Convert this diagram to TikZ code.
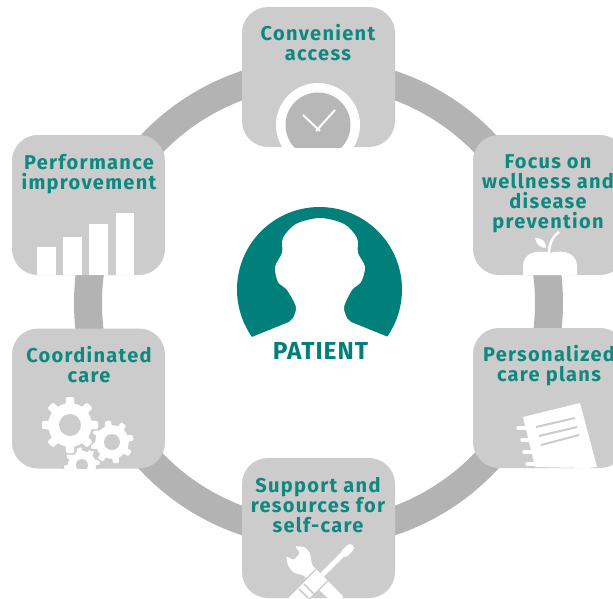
\documentclass[tikz,border=0pt]{standalone}
\usepackage{fontspec}
\setmainfont{Fira Sans}[LetterSpace=6.5]
\newfontfamily\patientfont{Fira Sans}[LetterSpace=4]
\definecolor{boxgrey}{HTML}{CCCCCC}
\definecolor{ringgrey}{HTML}{B3B3B3}
\definecolor{teal1}{HTML}{0F8880}
\definecolor{teal2}{HTML}{007F7B}
\newcommand{\gearicon}[5]{%
  \fill[boxgrey] (#1,#2) circle[radius=#3*0.8+2];
  \foreach \a in {0,45,...,315}{
    \draw[boxgrey,line width=3pt,shift={(#1,#2)},rotate=\a+#5]
      (-#3*0.2,0) -- (-#3*0.14,-#3) -- (#3*0.14,-#3) -- (#3*0.2,0) -- cycle;
  }
  \fill[white] (#1,#2) circle[radius=#3*0.78];
  \foreach \a in {0,45,...,315}{
    \fill[white,rounded corners=1.2pt,shift={(#1,#2)},rotate=\a+#5]
      (-#3*0.2,0) -- (-#3*0.14,-#3) -- (#3*0.14,-#3) -- (#3*0.2,0) -- cycle;
  }
  \fill[boxgrey] (#1,#2) circle[radius=#4];
}
\tikzset{
  tilebox/.style={minimum width=153pt,minimum height=140pt,inner sep=0pt,outer sep=0pt,draw=none,fill=boxgrey,rounded corners=26pt},
  tiletext/.style={text=teal1,font=\fontsize{20}{20}\selectfont\bfseries,align=center,inner sep=0pt},
  ringline/.style={draw=ringgrey,line width=28pt,circle,minimum size=461pt,inner sep=0pt,outer sep=0pt},
  grey line/.style={draw=boxgrey,line width=2pt},
}
\begin{document}
\begin{tikzpicture}[x=1pt,y=-1pt]
\clip (0,0) rectangle (613,598);
\fill[white] (0,0) rectangle (613,598);
\node[ringline] (ring) at (318.5,303) {};
\node[tilebox] (access) at (318.5,77) {};
\node[tilebox] (focus) at (549.5,205) {};
\node[tilebox] (plans) at (549.5,398) {};
\node[tilebox] (support) at (318.5,528) {};
\node[tilebox] (coord) at (88.5,398.5) {};
\node[tilebox] (perf) at (88.5,205) {};
% clock
\begin{scope}
\clip (242,7) rectangle (395,147);
\fill[white] (318,125) circle[radius=42];
\fill[ringgrey!85!boxgrey] (318,125) circle[radius=32.5];
\draw[white,line width=2pt] (316,131) -- (335,110);
\draw[white,line width=2pt] (320,131) -- (303,115);
\end{scope}
% apple
\fill[white] (523,275) -- (523,266) .. controls (523,254) and (535,249) .. (550,253)
  .. controls (565,249) and (577,254) .. (577,266) -- (577,275) -- cycle;
\fill[white] (535,238) .. controls (543,238) and (546,242) .. (546,248) .. controls (540,248) and (536,244) .. (535,238) -- cycle;
\draw[white,line width=2.5pt] (549,253) .. controls (549,244) and (553,236) .. (559,232);
% notebook
\begin{scope}
\fill[white] (523,417) -- (580,403) -- (597,467) -- (588,468) -- (535,467) -- cycle;
\foreach \ya/\xa/\xb in {428/518/526,440/522/529,452/524/532,464/527/536}{
  \draw[white,line width=3.5pt,line cap=round] (\xa,\ya) -- (\xb,\ya);
}
\draw[grey line] (536,427) -- (575,418);
\draw[grey line] (539,436) -- (577,427);
\draw[grey line] (541,445) -- (579,435);
\end{scope}
% tools
\begin{scope}
\clip (242,458) rectangle (395,598);
\fill[white,rounded corners=1.5pt] (295,546) -- (305,547) -- (310,553) -- (312,565) -- (344,597) -- (332,602) -- (303,575) -- (294,573) -- (288,566) -- (286,556) -- (294,560) -- (300,553) -- cycle;
\draw[boxgrey,line width=10pt] (345,552) -- (318,579);
\draw[white,line width=5pt] (345,552) -- (318,579);
\draw[white,line width=8pt,line cap=round] (350,548) -- (345,553);
\draw[boxgrey,line width=18pt] (322,575) -- (294,603);
\draw[white,line width=15pt] (322,575) -- (294,603);
\draw[boxgrey,line width=1.5pt] (304,584) -- (316,596);
\draw[boxgrey,line width=1.5pt] (299,589) -- (308,598);
\end{scope}
% gears
\begin{scope}
\clip (13,329) rectangle (165,468);
\gearicon{82}{465}{18}{6}{10}
\gearicon{112}{442}{21.5}{8}{12}
\gearicon{70}{425}{28}{11}{0}
\end{scope}
% bars
\fill[white] (37,247) rectangle (56,275);
\fill[white] (63,237) rectangle (82,275);
\fill[white] (89,224) rectangle (108,275);
\fill[white] (116,213) rectangle (134,275);
% labels
\node[tiletext] (taccess) at (318,43) {Convenient\\access};
\node[tiletext] (tfocus) at (548,194) {Focus on\\wellness and\\disease\\prevention};
\node[tiletext] (tplans) at (549,365.5) {Personalized\\care plans};
\node[tiletext] (tsupport) at (318,505.5) {Support and\\resources for\\self-care};
\node[tiletext] (tcoord) at (89,365) {Coordinated\\care};
\node[tiletext] (tperf) at (89,174.5) {Performance\\improvement};
% patient
\fill[teal2] (319.5,289.5) circle[radius=82.5];
\fill[white] (240,345) -- (252,337) -- (289,322) -- plot[smooth,tension=.5] coordinates {(293,318) (296,307) (287,290) (278,282) (275,267) (282,253) (283,238) (296,224) (320,218) (344,224) (357,238) (358,253) (365,267) (361,282) (352,290) (344,307) (347,318)} -- (351,322) -- (388,337) -- (400,345) -- (400,380) -- (240,380) -- cycle;
\node[text=teal2,font=\patientfont\fontsize{24.5}{24.5}\selectfont\bfseries,inner sep=0pt] (tpatient) at (320.5,351) {PATIENT};
\end{tikzpicture}
\end{document}
